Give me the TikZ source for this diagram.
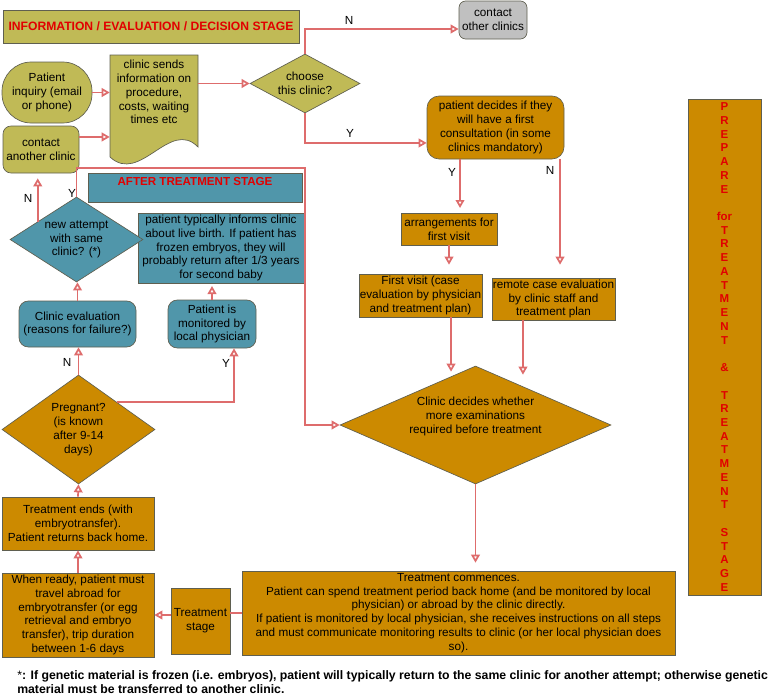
\documentclass[tikz,border=0pt]{standalone}
\usepackage{fontspec}
\setmainfont{Liberation Sans}
\usetikzlibrary{arrows.meta,shapes.geometric,calc}
\definecolor{olivebox}{RGB}{192,186,86}
\definecolor{orangebox}{RGB}{204,138,0}
\definecolor{tealbox}{RGB}{80,150,170}
\definecolor{graybox}{RGB}{192,192,192}
\definecolor{redtext}{RGB}{225,0,0}
\definecolor{linkred}{RGB}{222,108,108}
\definecolor{edgegray}{RGB}{95,95,80}
\newcommand\pxu{0.75pt}
\begin{document}
\begin{tikzpicture}[x=0.75pt,y=-0.75pt,
 every node/.style={font=\fontsize{8.8}{10.4}\selectfont, align=center, inner sep=0pt},
 base/.style={draw=edgegray, line width=0.5pt},
 olivebx/.style={base, fill=olivebox},
 orangebx/.style={base, fill=orangebox},
 tealbx/.style={base, fill=tealbox},
 sz/.style 2 args={minimum width=#1*\pxu, minimum height=#2*\pxu},
 arr/.style={draw=linkred, line width=1.3pt, -{Triangle[open,fill=white,length=6pt,width=6.5pt]}},
 lnk/.style={draw=linkred, line width=1.3pt},
 lbl/.style={font=\fontsize{8.8}{10}\selectfont},
 heading/.style={font=\bfseries\fontsize{9.1}{10}\selectfont, text=redtext},
]
\useasboundingbox (0,0) rectangle (778,696);

% ---------- information / evaluation / decision stage ----------
\node[olivebx, sz={296}{33}, heading] (title) at (151,26.5) {INFORMATION / EVALUATION / DECISION STAGE};
\node[olivebx, sz={90}{61}, rounded corners=22pt] (inq) at (47,92.5) {Patient\\inquiry (email\\or phone)};
\node[olivebx, sz={76}{47}, rounded corners=6pt] (contact) at (41,149.5) {contact\\another clinic};
\filldraw[fill=olivebox, draw=edgegray, line width=0.5pt] (110,55) -- (198,55) -- (198,147) .. controls (170,118) and (140,185) .. (110,157) -- cycle;
\node[sz={88}{80}] (doc) at (154,92) {clinic sends\\information on\\procedure,\\costs, waiting\\times etc};
\node[diamond, olivebx, shape aspect=1.86, sz={110}{59}] (choose) at (305,83.5) {choose\\this clinic?};
\node[base, fill=graybox, sz={68}{38}, rounded corners=5pt] (other) at (493,20) {contact\\other clinics};

% ---------- prepare for treatment ----------
\node[orangebx, sz={137}{63}, rounded corners=9pt] (decides) at (495.5,127.5) {patient decides if they\\will have a first\\consultation (in some\\clinics mandatory)};
\node[orangebx, sz={96}{32}] (arrange) at (449,229) {arrangements for\\first visit};
\node[orangebx, sz={123}{43}] (first) at (420.5,295.5) {First visit (case\\evaluation by physician\\and treatment plan)};
\node[orangebx, sz={123}{42}] (remote) at (553.5,299) {remote case evaluation\\by clinic staff and\\treatment plan};
\node[diamond, orangebx, shape aspect=2.3, sz={271}{118}] (clinicdec) at (475.5,425) {Clinic decides whether\\more examinations\\required before treatment\\[4pt]};
\node[orangebx, sz={433}{84}] (commence) at (458.5,613) {Treatment commences.\\Patient can spend treatment period back home (and be monitored by local\\physician) or abroad by the clinic directly.\\If patient is monitored by local physician, she receives instructions on all steps\\and must communicate monitoring results to clinic (or her local physician does\\so).};
\node[orangebx, sz={59}{66}] (tstage) at (200.5,621) {Treatment\\stage};
\node[orangebx, sz={152}{84}] (ready) at (78,615) {When ready, patient must\\travel abroad for\\embryotransfer (or egg\\retrieval and embryo\\transfer), trip duration\\between 1-6 days};
\node[orangebx, sz={152}{53}] (ends) at (78,523.5) {Treatment ends (with\\embryotransfer).\\Patient returns back home.};
\node[diamond, orangebx, shape aspect=1.4, sz={153}{109}] (preg) at (78.5,429.5) {Pregnant?\\(is known\\after 9-14\\days)};

% ---------- after treatment stage ----------
\node[tealbx, sz={214}{29}] (after) at (195,187.5) {};
\node[heading, font=\bfseries\fontsize{8.7}{10}\selectfont, anchor=north] (aftertxt) at (195,177.5) {AFTER TREATMENT STAGE};
\node[tealbx, sz={166}{70}] (informs) at (221,248) {patient typically informs clinic\\about live birth. If patient has\\frozen embryos, they will\\probably return after 1/3 years\\for second baby};
\node[tealbx, sz={117}{46}, rounded corners=7pt] (eval) at (77.5,324) {Clinic evaluation\\(reasons for failure?)};
\node[tealbx, sz={88}{48}, rounded corners=7pt] (monitor) at (212,324) {Patient is\\monitored by\\local physician};
\node[diamond, tealbx, shape aspect=1.56, sz={133}{85}] (newatt) at (76.5,239.5) {new attempt\\with same\\clinic? (*)};

% ---------- side banner ----------
\node[orangebx, sz={73}{496}, font=\bfseries\fontsize{8.6}{10.3}\selectfont, text=redtext] (prepare) at (724.5,347) {P\\R\\E\\P\\A\\R\\E\\~\\for\\T\\R\\E\\A\\T\\M\\E\\N\\T\\~\\\&\\~\\T\\R\\E\\A\\T\\M\\E\\N\\T\\~\\S\\T\\A\\G\\E};

% ---------- footnote ----------
\node[anchor=north west, align=left, font=\bfseries\fontsize{9.2}{10.5}\selectfont] (foot) at (17,670) {{\mdseries *}: If genetic material is frozen (i.e. embryos), patient will typically return to the same clinic for another attempt; otherwise genetic\\material must be transferred to another clinic.};

% ---------- connectors ----------
\draw[arr] (inq.east) -- (inq.east -| doc.west);
\draw[arr] ([yshift=9.4pt]contact.east) -- ([yshift=9.4pt]contact.east -| doc.west);
\draw[arr] (choose.west -| doc.east) -- (choose.west);
\draw[arr] (choose.north) |- ([yshift=-6.75pt]other.west);
\node[lbl] (lN1) at (349,20) {N};
\draw[arr] (choose.south) |- ([yshift=-11.6pt]decides.west);
\node[lbl] (lY1) at (350,133) {Y};

\coordinate (decY) at ([xshift=-26.6pt]decides.south);
\coordinate (decN) at ([xshift=48.4pt]decides.south);
\draw[arr, shorten >=3.5pt] (decY) -- (decY |- arrange.north);
\node[lbl] (lY2) at (452,172) {Y};
\draw[arr, shorten >=9.75pt] (decN) -- (decN |- remote.north);
\node[lbl] (lN2) at (550,170) {N};
\draw[arr, shorten >=6.75pt] (arrange.south) -- (arrange.south |- first.north);
\coordinate (firstB) at ([xshift=22.9pt]first.south);
\coordinate (remoteB) at ([xshift=-22.9pt]remote.south);
\draw[arr] (firstB) -- ($(firstB |- clinicdec.north)+(0,6)$);
\draw[arr] (remoteB) -- ($(remoteB |- clinicdec.north)+(0,9)$);
\draw[arr, shorten >=6pt] (clinicdec.south) -- (clinicdec.south |- commence.north);

\draw[lnk] (commence.west) -- (tstage.east |- commence.west);
\draw[arr] (tstage.west |- ready.east) -- (ready.east);
\draw[arr] (ready.north) -- (ends.south);
\draw[arr] (ends.north) -- (preg.south);
\draw[arr] (preg.north) -- (preg.north |- eval.south);
\node[lbl] (lN3) at (67,362) {N};
\draw[arr] (preg.north east) -| ([xshift=16.5pt]monitor.south);
\node[lbl] (lY3) at (226,363) {Y};
\draw[arr, shorten >=2pt] (monitor.north) -- (monitor.north |- informs.south);
\draw[arr] (eval.north) -- (eval.north |- newatt.south);
\coordinate (nwpt) at ($(newatt.west)!0.42!(newatt.north)$);
\draw[arr, shorten >=3.75pt] (nwpt) -- (nwpt |- contact.south);
\node[lbl] (lN4) at (28,198) {N};
\coordinate (yturn) at (305,168);
\draw[arr] (newatt.north) |- (yturn) |- (clinicdec.west);
\node[lbl] (lY4) at (72,193) {Y};
\end{tikzpicture}
\end{document}
